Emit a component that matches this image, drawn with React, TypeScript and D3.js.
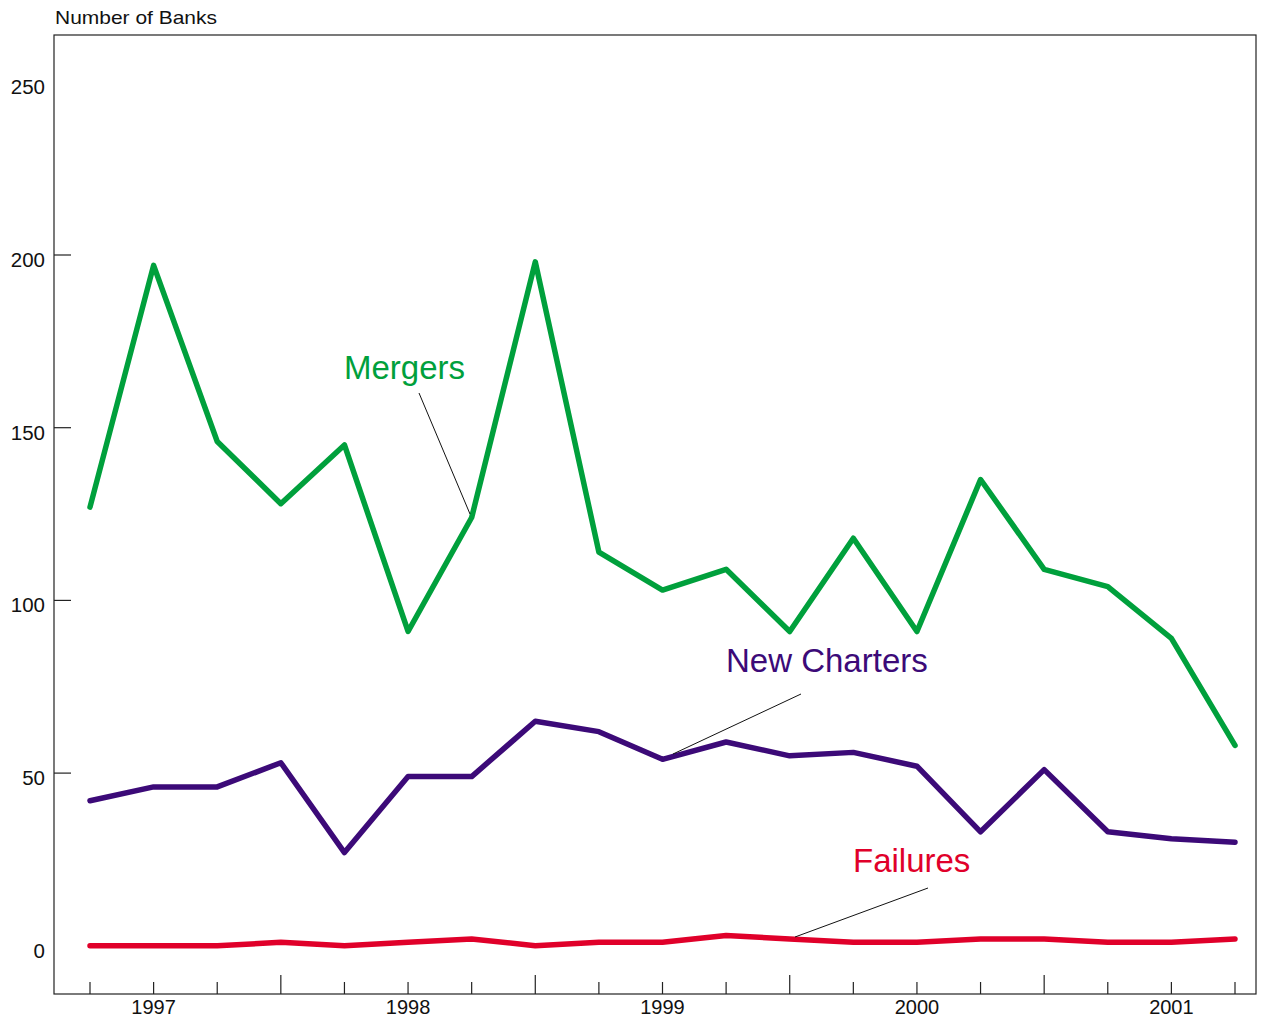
import React from "react";
import * as d3 from "d3";

const quarters = ["96Q4","97Q1","97Q2","97Q3","97Q4","98Q1","98Q2","98Q3","98Q4","99Q1","99Q2","99Q3","99Q4","00Q1","00Q2","00Q3","00Q4","01Q1","01Q2"];
const mergers = [127,197,146,128,145,91,124,198,114,103,109,91,118,91,135,109,104,89,58];
const newCharters = [42,46,46,53,27,49,49,65,62,54,59,55,56,52,33,51,33,31,30];
const failures = [0,0,0,1,0,1,2,0,1,1,3,2,1,1,2,2,1,1,2];
const yTicks = [0,50,100,150,200,250];
const yTickMarks = [50,100,150,200];
const yearLabels = [{ i: 1, label: "1997" },{ i: 5, label: "1998" },{ i: 9, label: "1999" },{ i: 13, label: "2000" },{ i: 17, label: "2001" }];
const longTickIdx = [3,7,11,15];

const W = 1265, H = 1021;
const frame = { left: 54, top: 35, right: 1256, bottom: 994 };
const FONT = "'Liberation Sans', Arial, Helvetica, sans-serif";

export default function App() {
  const x = d3.scaleLinear().domain([0, quarters.length - 1]).range([90, 1235]);
  const y = d3.scaleLinear().domain([0, 200]).range([945.8, 255]);
  const line = d3.line<number>().x((_, i) => x(i)).y(d => y(d));

  const series = [
    { data: mergers, color: "#00a03c" },
    { data: newCharters, color: "#3c0a78" },
    { data: failures, color: "#e0002a" },
  ];

  return (
    <svg width={W} height={H} style={{ position: "absolute", left: 0, top: 0, background: "#fff" }} fontFamily={FONT}>
      <rect x={0} y={0} width={W} height={H} fill="#fff" />
      <text x={55} y={24} fontSize={19} textLength={162} lengthAdjust="spacingAndGlyphs" fill="#111">Number of Banks</text>
      <rect x={frame.left} y={frame.top} width={frame.right - frame.left} height={frame.bottom - frame.top} fill="none" stroke="#222" strokeWidth={1.2} />
      {yTickMarks.map(t => (
        <line key={t} x1={frame.left} x2={frame.left + 17} y1={y(t)} y2={y(t)} stroke="#222" strokeWidth={1.2} />
      ))}
      {yTicks.map(t => (
        <text key={t} x={45} y={y(t) + 12} fontSize={20.5} textAnchor="end" fill="#111">{t}</text>
      ))}
      {quarters.map((q, i) => (
        <line key={q} x1={x(i)} x2={x(i)} y1={frame.bottom} y2={frame.bottom - (longTickIdx.includes(i) ? 19 : 12)} stroke="#222" strokeWidth={1.2} />
      ))}
      {yearLabels.map(d => (
        <text key={d.label} x={x(d.i)} y={1014} fontSize={20} textAnchor="middle" fill="#111">{d.label}</text>
      ))}
      {series.map((s, k) => (
        <path key={k} d={line(s.data) || ""} fill="none" stroke={s.color} strokeWidth={5.5} strokeLinejoin="round" strokeLinecap="round" />
      ))}
      <line x1={419} y1={393} x2={470} y2={514} stroke="#111" strokeWidth={1} />
      <line x1={801} y1={694} x2={673} y2={754} stroke="#111" strokeWidth={1} />
      <line x1={928} y1={888} x2={795} y2={937} stroke="#111" strokeWidth={1} />
      <text x={344} y={379} fontSize={33} fill="#00a03c">Mergers</text>
      <text x={726} y={672} fontSize={33} fill="#3c0a78">New Charters</text>
      <text x={853} y={872} fontSize={33} fill="#e0002a">Failures</text>
    </svg>
  );
}
